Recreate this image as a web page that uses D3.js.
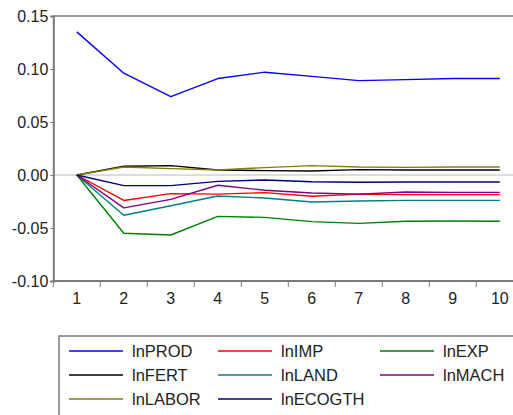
<!DOCTYPE html>
<html>
<head>
<meta charset="utf-8">
<script src="https://cdn.jsdelivr.net/npm/d3@7"></script>
<style>
  html, body { margin: 0; padding: 0; background: #fff; overflow: hidden; }
  svg { display: block; font-family: Arial, "Liberation Sans", sans-serif; }
</style>
</head>
<body>
<svg id="chart" width="513" height="415"></svg>
<script>
// Impulse responses over 10 periods
const periods = [1, 2, 3, 4, 5, 6, 7, 8, 9, 10];
const lnPROD   = [0.135, 0.096, 0.074, 0.091, 0.097, 0.093, 0.089, 0.090, 0.091, 0.091];
const lnIMP    = [0, -0.024, -0.0176, -0.018, -0.0166, -0.020, -0.018, -0.0185, -0.0185, -0.0185];
const lnEXP    = [0, -0.055, -0.0566, -0.039, -0.040, -0.044, -0.0456, -0.0437, -0.0434, -0.0437];
const lnFERT   = [0, 0.0082, 0.0088, 0.0047, 0.0041, 0.0038, 0.0051, 0.0047, 0.0047, 0.0047];
const lnLAND   = [0, -0.038, -0.029, -0.0198, -0.0217, -0.0255, -0.0245, -0.0239, -0.0239, -0.0239];
const lnMACH   = [0, -0.031, -0.023, -0.0097, -0.0144, -0.017, -0.018, -0.016, -0.0164, -0.0164];
const lnLABOR  = [0, 0.0075, 0.006, 0.0047, 0.007, 0.0088, 0.0075, 0.0072, 0.0075, 0.0075];
const lnECOGTH = [0, -0.010, -0.010, -0.006, -0.0047, -0.0063, -0.0069, -0.0066, -0.0066, -0.0066];
const yTicks = [0.15, 0.10, 0.05, 0.00, -0.05, -0.10];

const series = [
  { name: "lnPROD",   values: lnPROD,   color: "#0000ff" },
  { name: "lnIMP",    values: lnIMP,    color: "#ff0000" },
  { name: "lnEXP",    values: lnEXP,    color: "#008000" },
  { name: "lnFERT",   values: lnFERT,   color: "#000000" },
  { name: "lnLAND",   values: lnLAND,   color: "#008080" },
  { name: "lnMACH",   values: lnMACH,   color: "#800080" },
  { name: "lnLABOR",  values: lnLABOR,  color: "#808000" },
  { name: "lnECOGTH", values: lnECOGTH, color: "#000080" }
];

const svg = d3.select("#chart");
const plotLeft = 53.3, plotTop = 16, plotBottom = 281, bandW = 47;

const x = d3.scaleBand().domain(periods).range([plotLeft, plotLeft + bandW * periods.length]).padding(0);
const y = d3.scaleLinear().domain([-0.10, 0.15]).range([plotBottom, plotTop]);

const axisColor = "#7a7a7a";

// zero reference line
svg.append("line")
  .attr("x1", plotLeft).attr("x2", 540)
  .attr("y1", y(0)).attr("y2", y(0))
  .attr("stroke", "#dcdcdc").attr("stroke-width", 2);

// frame top
svg.append("line")
  .attr("x1", plotLeft).attr("x2", 540)
  .attr("y1", plotTop).attr("y2", plotTop)
  .attr("stroke", axisColor).attr("stroke-width", 1.5);

// y axis
const yAxis = svg.append("g")
  .attr("transform", `translate(${plotLeft},0)`)
  .call(d3.axisLeft(y).tickValues(yTicks).tickFormat(d => d3.format(".2f")(d).replace("\u2212", "-")).tickSize(3).tickPadding(2));
yAxis.select(".domain").attr("stroke", axisColor).attr("stroke-width", 2);
yAxis.selectAll(".tick line").attr("stroke", axisColor);
yAxis.selectAll(".tick text").attr("font-size", 16).attr("fill", "#222");

// x axis
const xAxis = svg.append("g")
  .attr("transform", `translate(0,${plotBottom})`)
  .call(d3.axisBottom(x).tickSize(0).tickPadding(12));
xAxis.select(".domain").attr("stroke", axisColor).attr("stroke-width", 2).attr("d", `M${plotLeft},0H540`);
xAxis.selectAll(".tick text").attr("font-size", 16).attr("fill", "#222");
xAxis.selectAll(".tickmark").data(periods).enter().append("line")
  .attr("class", "tickmark")
  .attr("x1", d => x(d)).attr("x2", d => x(d))
  .attr("y1", 0).attr("y2", 6)
  .attr("stroke", axisColor).attr("stroke-width", 1);

// response lines
const line = d3.line()
  .x((d, i) => x(periods[i]) + x.bandwidth() / 2)
  .y(d => y(d));

svg.append("g").selectAll("path").data(series).enter().append("path")
  .attr("d", s => line(s.values))
  .attr("fill", "none")
  .attr("stroke", s => s.color)
  .attr("stroke-width", 1.4)
  .attr("stroke-linejoin", "round");

// legend
const legend = svg.append("g");
legend.append("rect")
  .attr("x", 59).attr("y", 336).attr("width", 480).attr("height", 100)
  .attr("fill", "none").attr("stroke", axisColor).attr("stroke-width", 1.5);

const colX = [69, 218, 380];
const rowY = [351, 375, 399];
series.forEach((s, i) => {
  const cx = colX[i % 3], cy = rowY[Math.floor(i / 3)];
  legend.append("line")
    .attr("x1", cx).attr("x2", cx + 54)
    .attr("y1", cy).attr("y2", cy)
    .attr("stroke", s.color).attr("stroke-width", 1.4);
  legend.append("text")
    .attr("x", cx + 63).attr("y", cy)
    .attr("dy", "0.36em")
    .attr("font-size", 16.5).attr("fill", "#222")
    .text(s.name);
});
</script>
</body>
</html>
